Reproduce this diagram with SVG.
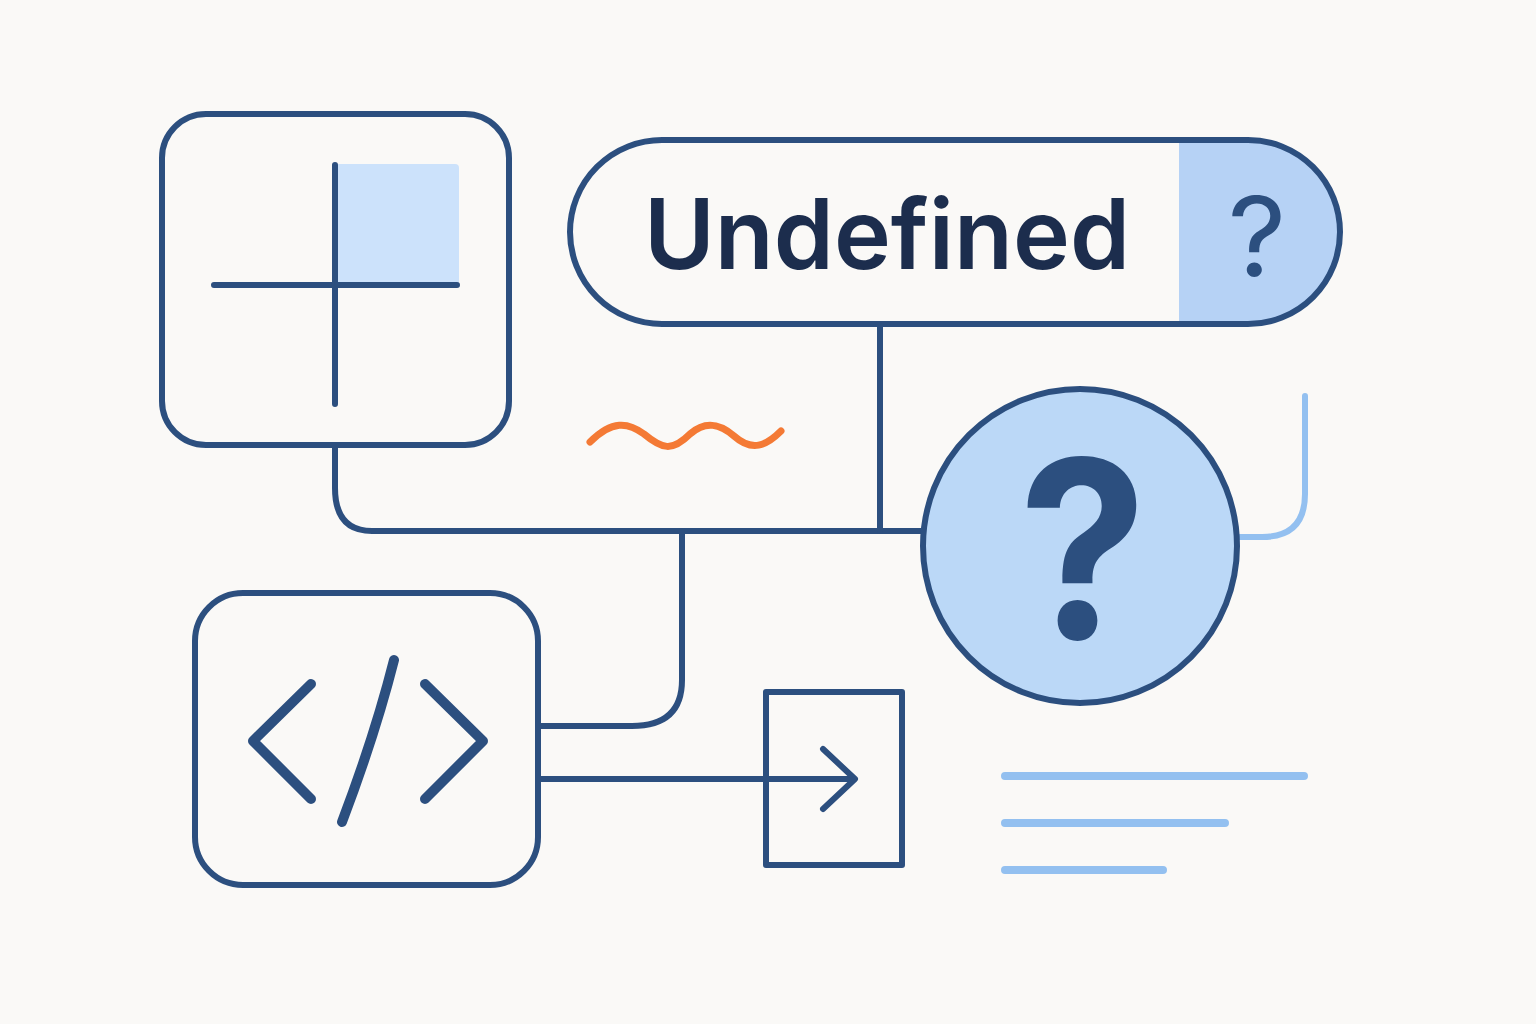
<svg xmlns="http://www.w3.org/2000/svg" width="1536" height="1024" viewBox="0 0 1536 1024">
<style>
.l{fill:none;stroke:#2c4f7f;stroke-width:6;stroke-linecap:round;stroke-linejoin:round}
.t{fill:none;stroke:#2c4f7f;stroke-width:10;stroke-linecap:round;stroke-linejoin:round}
.b{fill:none;stroke:#93c0f0;stroke-width:8;stroke-linecap:round}
text{font-family:"Inter","Liberation Sans",sans-serif}
</style>
<rect width="1536" height="1024" fill="#faf9f7"/>
<g id="connectors">
<path class="l" d="M335 446V488Q335 531 372 531H924"/>
<path class="l" d="M880 324V531"/>
<path class="l" d="M682 531V680Q682 726 632 726H538"/>
<path class="l" d="M538 779H850"/>
<path class="l" d="M823 749L855 779L823 809"/>
<path d="M1240 537H1262Q1305 537 1305 494V396" fill="none" stroke="#93c0f0" stroke-width="6" stroke-linecap="round"/>
</g>
<g id="node-grid">
<rect x="162" y="114" width="347" height="331" rx="44" class="l"/>
<rect x="335" y="164" width="124" height="121" rx="4" fill="#cce2fb"/>
<path class="l" d="M335 165V404M214 285H457"/>
</g>
<g id="node-undefined">
<path d="M1179 140H1248C1300 140 1340 180 1340 232C1340 284 1300 323 1248 323H1179Z" fill="#b6d2f5"/>
<rect x="570" y="140" width="770" height="184" rx="92" class="l"/>
<text x="887" y="269" font-size="98" font-weight="600" fill="#1c2d4d" text-anchor="middle" textLength="486" lengthAdjust="spacingAndGlyphs">Undefined</text>
<text transform="translate(1257 276) scale(1.04 1)" font-size="110" font-weight="400" fill="#2c4f7f" text-anchor="middle">?</text>
</g>
<g id="node-question">
<circle cx="1080" cy="546" r="157" fill="#bbd8f7" stroke="#2c4f7f" stroke-width="6"/>
<text transform="translate(1083 639) scale(.91 .985)" font-size="252" font-weight="700" fill="#2c4f7f" text-anchor="middle">?</text>
</g>
<g id="node-code">
<rect x="195" y="593" width="343" height="292" rx="48" class="l"/>
<path class="t" d="M311 684L253 741L311 799M425 684L483 741L425 799M394 660Q375 735 342 822"/>
</g>
<g id="node-arrow-box">
<rect x="766" y="692" width="136" height="173" class="l"/>
</g>
<path d="M590 442C612 420 628 422 644 434C662 449 672 452 690 434C706 420 720 424 734 436C752 452 766 446 781 431" fill="none" stroke="#f47a35" stroke-width="7" stroke-linecap="round"/>
<path class="b" d="M1005 776H1304M1005 823H1225M1005 870H1163"/>
</svg>
